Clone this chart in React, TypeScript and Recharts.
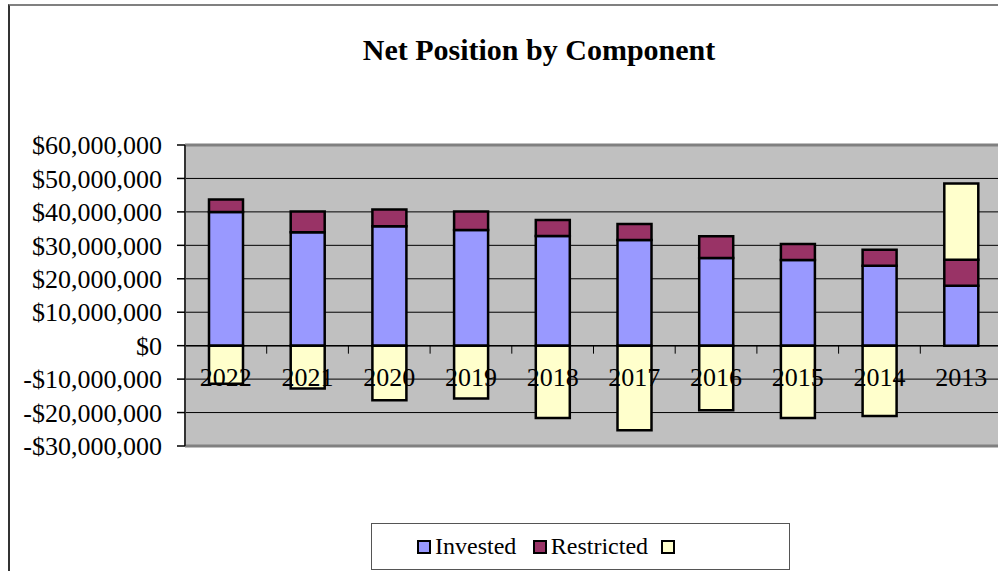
import React from 'react';
import { BarChart, Bar, XAxis, YAxis, CartesianGrid, ReferenceLine } from 'recharts';

const YEARS = ['2022', '2021', '2020', '2019', '2018', '2017', '2016', '2015', '2014', '2013'];
const INVESTED = [40000000, 33900000, 35700000, 34600000, 32800000, 31600000, 26200000, 25600000, 23900000, 17900000];
const RESTRICTED = [3700000, 6200000, 5000000, 5500000, 4800000, 4800000, 6500000, 4800000, 4800000, 7800000];
const UNRESTRICTED = [-11400000, -12800000, -16300000, -15800000, -21600000, -25300000, -19300000, -21600000, -21000000, 22800000];
const Y_TICKS = [-30000000, -20000000, -10000000, 0, 10000000, 20000000, 30000000, 40000000, 50000000, 60000000];
const SERIES_NAMES = ['Invested', 'Restricted', ''];
const SERIES_COLORS = ['#9999FF', '#993366', '#FFFFCC'];

const data = YEARS.map((year, i) => ({
  year,
  invested: INVESTED[i],
  restricted: RESTRICTED[i],
  unrestricted: UNRESTRICTED[i],
}));

const FONT = "'Liberation Serif', 'Times New Roman', serif";

// plot geometry (used for the category labels / tick marks that sit on the zero line)
const CHART_W = 1010;
const CHART_H = 571;
const PLOT_LEFT = 185;
const PLOT_TOP = 145;
const PLOT_RIGHT_MARGIN = 8;
const PLOT_BOTTOM = 446;
const PLOT_H = PLOT_BOTTOM - PLOT_TOP;
const ZERO_Y = PLOT_TOP + PLOT_H * (60 / 90);
const BAND = (CHART_W - PLOT_RIGHT_MARGIN - PLOT_LEFT) / YEARS.length;

const money = (v: number) => (v < 0 ? '-' : '') + '$' + Math.abs(v).toLocaleString('en-US');

const CategoryTick = (props: any) => {
  const { x, payload, index } = props;
  return (
    <g>
      {index < YEARS.length - 1 && (
        <line x1={x + BAND / 2} x2={x + BAND / 2} y1={ZERO_Y} y2={ZERO_Y + 8} stroke="#000" strokeWidth={1} />
      )}
      <text x={x} y={ZERO_Y + 40} textAnchor="middle" fontFamily={FONT} fontSize={26} fill="#000">
        {payload.value}
      </text>
    </g>
  );
};

const LegendBox = () => (
  <div
    style={{
      position: 'absolute',
      left: 371,
      top: 523,
      width: 419,
      height: 47,
      border: '1px solid #555',
      background: '#fff',
      display: 'flex',
      alignItems: 'center',
      boxSizing: 'border-box',
      paddingLeft: 45,
      fontFamily: FONT,
      fontSize: 24,
      color: '#000',
    }}
  >
    {SERIES_NAMES.map((name, i) => (
      <div key={i} style={{ display: 'flex', alignItems: 'center', width: i === 0 ? 150 : 166, fontFamily: FONT }}>
        <span
          style={{
            display: 'inline-block',
            width: 10,
            height: 10,
            border: '2px solid #000',
            background: SERIES_COLORS[i],
            marginRight: 4,
          }}
        />
        <span style={{ fontFamily: FONT }}>{name}</span>
      </div>
    ))}
  </div>
);

export default function App() {
  return (
    <div style={{ position: 'absolute', left: 0, top: 0, width: 998, height: 571, overflow: 'hidden', background: '#fff' }}>
      <div
        style={{
          position: 'absolute',
          left: 8,
          top: 4,
          width: 1000,
          height: 600,
          borderTop: '2px solid #808080',
          borderLeft: '2px solid #333',
        }}
      />
      <div
        style={{
          position: 'absolute',
          left: 0,
          width: 1078,
          top: 33,
          textAlign: 'center',
          fontFamily: FONT,
          fontWeight: 'bold',
          fontSize: 30,
          color: '#000',
        }}
      >
        Net Position by Component
      </div>
      <div style={{ position: 'absolute', left: 0, top: 0 }}>
        <BarChart
          width={CHART_W}
          height={CHART_H}
          data={data}
          stackOffset="sign"
          barSize={34}
          margin={{ top: PLOT_TOP, right: PLOT_RIGHT_MARGIN, left: 0, bottom: CHART_H - PLOT_BOTTOM - 30 }}
        >
          <CartesianGrid vertical={false} stroke="#000" strokeWidth={1} fill="#C0C0C0" />
          <YAxis
            type="number"
            domain={[-30000000, 60000000]}
            ticks={Y_TICKS}
            interval={0}
            width={PLOT_LEFT}
            tickFormatter={money}
            tick={{ fontFamily: FONT, fontSize: 26, fill: '#000' }}
            tickSize={8}
            tickMargin={15}
            tickLine={{ stroke: '#000', strokeWidth: 1.5 }}
            axisLine={{ stroke: '#333', strokeWidth: 2 }}
          />
          <ReferenceLine y={60000000} stroke="#808080" strokeWidth={3} />
          <ReferenceLine y={-30000000} stroke="#808080" strokeWidth={3} />
          <ReferenceLine y={0} stroke="#000" strokeWidth={1.5} />
          <Bar dataKey="invested" name={SERIES_NAMES[0]} stackId="a" fill={SERIES_COLORS[0]} stroke="#000" strokeWidth={2.5} isAnimationActive={false} />
          <Bar dataKey="restricted" name={SERIES_NAMES[1]} stackId="a" fill={SERIES_COLORS[1]} stroke="#000" strokeWidth={2.5} isAnimationActive={false} />
          <Bar dataKey="unrestricted" name={SERIES_NAMES[2]} stackId="a" fill={SERIES_COLORS[2]} stroke="#000" strokeWidth={2.5} isAnimationActive={false} />
          <XAxis dataKey="year" height={30} axisLine={false} tickLine={false} tick={<CategoryTick />} interval={0} />
        </BarChart>
      </div>
      <LegendBox />
    </div>
  );
}
